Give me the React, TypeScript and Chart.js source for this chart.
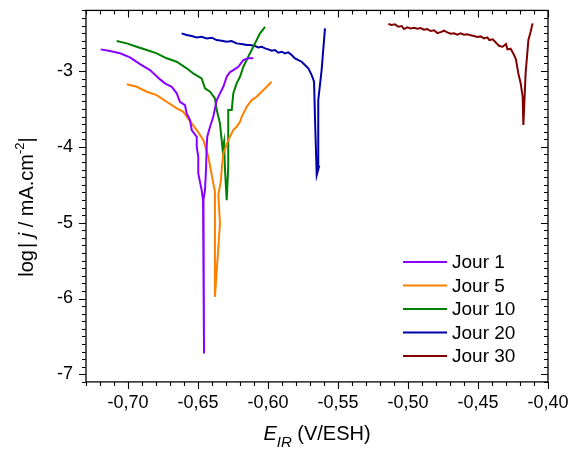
import React, { useEffect, useRef } from "react";
import { Chart, registerables } from "chart.js";

Chart.register(...registerables);

const FONT = "'Liberation Sans', Arial, sans-serif";

const seriesLabels = ["Jour 1", "Jour 5", "Jour 10", "Jour 20", "Jour 30"];
const seriesColors = ["#8a00ff", "#ff8000", "#008000", "#0000a8", "#800000"];

const jour1E = [-0.7195, -0.7129, -0.7057, -0.6986, -0.6914, -0.6843, -0.6771, -0.6736, -0.6688, -0.6652, -0.6629, -0.6593, -0.6581, -0.6557, -0.6545, -0.6509, -0.6509, -0.6498, -0.6498, -0.6474, -0.6464, -0.6457, -0.6461, -0.645, -0.6443, -0.6438, -0.6434, -0.6414, -0.6391, -0.6366, -0.6343, -0.6319, -0.6295, -0.6271, -0.6248, -0.6212, -0.6176, -0.6141, -0.6105];
const jour1LogJ = [-2.714, -2.736, -2.766, -2.819, -2.908, -2.987, -3.11, -3.162, -3.207, -3.294, -3.405, -3.449, -3.558, -3.646, -3.778, -3.867, -3.999, -4.131, -4.35, -4.57, -4.702, -6.724, -4.7, -4.57, -4.306, -3.999, -3.867, -3.735, -3.603, -3.383, -3.294, -3.207, -3.075, -3.013, -2.987, -2.943, -2.855, -2.832, -2.832];

const jour5E = [-0.7009, -0.6938, -0.6866, -0.6795, -0.6724, -0.6652, -0.6605, -0.6581, -0.6545, -0.6509, -0.6462, -0.6426, -0.6395, -0.6379, -0.6379, -0.6343, -0.6355, -0.6336, -0.6329, -0.6319, -0.6284, -0.6248, -0.6224, -0.62, -0.6188, -0.6152, -0.6116, -0.6081, -0.6045, -0.6009, -0.5974];
const jour5LogJ = [-3.175, -3.207, -3.273, -3.317, -3.405, -3.492, -3.537, -3.603, -3.69, -3.778, -3.91, -4.131, -4.438, -4.592, -5.978, -5.009, -4.636, -4.438, -4.262, -4.086, -3.91, -3.778, -3.735, -3.669, -3.603, -3.471, -3.383, -3.339, -3.273, -3.207, -3.141];

const jour10E = [-0.7081, -0.7009, -0.6938, -0.6866, -0.6795, -0.6724, -0.6652, -0.6581, -0.6534, -0.6474, -0.645, -0.6414, -0.6379, -0.6366, -0.6343, -0.6331, -0.6324, -0.6314, -0.6307, -0.6295, -0.6284, -0.6284, -0.6259, -0.6248, -0.6224, -0.62, -0.6176, -0.6141, -0.6105, -0.6081, -0.6057, -0.6021];
const jour10LogJ = [-2.604, -2.635, -2.679, -2.723, -2.766, -2.832, -2.877, -2.964, -3.03, -3.096, -3.228, -3.273, -3.36, -3.515, -3.69, -3.91, -4.042, -3.933, -4.306, -4.702, -4.262, -3.515, -3.515, -3.294, -3.162, -3.075, -2.943, -2.811, -2.679, -2.591, -2.503, -2.416];

const jour20E = [-0.6617, -0.6581, -0.6545, -0.651, -0.6474, -0.6438, -0.6402, -0.6367, -0.6331, -0.6295, -0.626, -0.6224, -0.6188, -0.6152, -0.6129, -0.6093, -0.6069, -0.6045, -0.6021, -0.5998, -0.5974, -0.595, -0.5926, -0.5902, -0.5879, -0.5855, -0.5831, -0.5807, -0.5783, -0.576, -0.5736, -0.5712, -0.5688, -0.5671, -0.5664, -0.5652, -0.5636, -0.5641, -0.5617, -0.5593];
const jour20LogJ = [-2.503, -2.525, -2.538, -2.556, -2.547, -2.569, -2.56, -2.591, -2.6, -2.613, -2.604, -2.635, -2.644, -2.657, -2.657, -2.67, -2.688, -2.679, -2.701, -2.714, -2.732, -2.723, -2.758, -2.745, -2.767, -2.754, -2.789, -2.833, -2.855, -2.877, -2.921, -2.965, -3.053, -3.141, -3.646, -4.372, -4.262, -3.383, -2.987, -2.437];

const jour30E = [-0.514, -0.5117, -0.5093, -0.5069, -0.5045, -0.5029, -0.5005, -0.4981, -0.4957, -0.4933, -0.491, -0.4886, -0.4862, -0.4838, -0.4814, -0.479, -0.4767, -0.4743, -0.4719, -0.4695, -0.4671, -0.4648, -0.4624, -0.46, -0.4576, -0.4552, -0.4529, -0.4505, -0.4481, -0.4457, -0.4433, -0.4419, -0.4395, -0.4371, -0.4348, -0.4324, -0.43, -0.429, -0.4267, -0.4248, -0.4229, -0.4212, -0.4195, -0.4181, -0.4176, -0.4167, -0.416, -0.414, -0.4124, -0.411];
const jour30LogJ = [-2.38, -2.393, -2.384, -2.415, -2.406, -2.446, -2.424, -2.437, -2.428, -2.442, -2.433, -2.455, -2.446, -2.472, -2.463, -2.499, -2.486, -2.468, -2.49, -2.507, -2.503, -2.521, -2.503, -2.521, -2.516, -2.529, -2.538, -2.551, -2.543, -2.569, -2.556, -2.591, -2.582, -2.626, -2.67, -2.679, -2.644, -2.714, -2.705, -2.767, -2.846, -3.031, -3.163, -3.339, -3.712, -3.339, -3.031, -2.591, -2.481, -2.371];

const seriesE = [jour1E, jour5E, jour10E, jour20E, jour30E];
const seriesLogJ = [jour1LogJ, jour5LogJ, jour10LogJ, jour20LogJ, jour30LogJ];

const xTickValues = [-0.7, -0.65, -0.6, -0.55, -0.5, -0.45, -0.4];
const yTickValues = [-7, -6, -5, -4, -3];
const xMin = -0.73;
const xMax = -0.4;
const yMin = -7.1;
const yMax = -2.2;
const xMinorStep = 0.01;
const yMinorStep = 0.1;

type Part = { text: string; size: number; italic?: boolean; dy?: number; gap?: number };

function fontOf(p: Part) {
  return `${p.italic ? "italic " : ""}${p.size}px ${FONT}`;
}

function drawRich(ctx: CanvasRenderingContext2D, parts: Part[], cx: number, baseY: number) {
  let total = 0;
  const widths = parts.map((p) => {
    ctx.font = fontOf(p);
    const w = ctx.measureText(p.text).width;
    total += w + (p.gap || 0);
    return w;
  });
  let x = cx - total / 2;
  ctx.textAlign = "left";
  ctx.textBaseline = "alphabetic";
  parts.forEach((p, i) => {
    x += p.gap || 0;
    ctx.font = fontOf(p);
    ctx.fillText(p.text, x, baseY + (p.dy || 0));
    x += widths[i];
  });
}

const framePlugin = {
  id: "frameTicks",
  afterDraw(chart: any) {
    const { ctx, chartArea: a, scales } = chart;
    const xs = scales.x;
    const ys = scales.y;
    ctx.save();
    ctx.strokeStyle = "#000";
    ctx.lineWidth = 1.3;
    ctx.strokeRect(a.left, a.top, a.right - a.left, a.bottom - a.top);
    ctx.lineWidth = 1.1;
    ctx.beginPath();
    const nx = Math.round((xMax - xMin) / xMinorStep);
    for (let i = 0; i <= nx; i++) {
      const v = xMin + i * xMinorStep;
      const major = xTickValues.some((t) => Math.abs(t - v) < 1e-6);
      const len = major ? 7 : 4;
      const px = Math.round(xs.getPixelForValue(v)) + 0.5;
      ctx.moveTo(px, a.bottom);
      ctx.lineTo(px, a.bottom + len);
      ctx.moveTo(px, a.top);
      ctx.lineTo(px, a.top + len);
    }
    const ny = Math.round((yMax - yMin) / yMinorStep);
    for (let i = 0; i <= ny; i++) {
      const v = yMin + i * yMinorStep;
      const major = yTickValues.some((t) => Math.abs(t - v) < 1e-6);
      const len = major ? 7 : 4;
      const py = Math.round(ys.getPixelForValue(v)) + 0.5;
      ctx.moveTo(a.left - len, py);
      ctx.lineTo(a.left, py);
      ctx.moveTo(a.right - len, py);
      ctx.lineTo(a.right, py);
    }
    ctx.stroke();

    ctx.fillStyle = "#000";
    // X title
    drawRich(
      ctx,
      [
        { text: "E", size: 20, italic: true },
        { text: "IR", size: 15, italic: true, dy: 7, gap: 0 },
        { text: " (V/ESH)", size: 20 },
      ],
      (a.left + a.right) / 2,
      440
    );
    // Y title
    ctx.save();
    ctx.translate(33, 207);
    ctx.rotate(-Math.PI / 2);
    drawRich(
      ctx,
      [
        { text: "log", size: 20 },
        { text: "|", size: 20, gap: 2 },
        { text: " j", size: 20, italic: true },
        { text: " / mA.cm", size: 20 },
        { text: "-2", size: 13, dy: -9 },
        { text: "|", size: 20 },
      ],
      0,
      0
    );
    ctx.restore();

    // Legend
    const datasets = chart.data.datasets;
    ctx.lineWidth = 2;
    ctx.font = `19px ${FONT}`;
    ctx.textAlign = "left";
    ctx.textBaseline = "middle";
    datasets.forEach((ds: any, i: number) => {
      const y = 262 + i * 23.5;
      ctx.strokeStyle = ds.borderColor;
      ctx.beginPath();
      ctx.moveTo(403, y);
      ctx.lineTo(447, y);
      ctx.stroke();
      ctx.fillStyle = "#000";
      ctx.fillText(ds.label, 452, y + 1);
    });
    ctx.restore();
  },
};

export default function App() {
  const ref = useRef<HTMLCanvasElement | null>(null);
  useEffect(() => {
    if (!ref.current) return;
    const datasets = seriesLabels.map((label, s) => ({
      label,
      data: seriesE[s].map((x, i) => ({ x, y: seriesLogJ[s][i] })),
      showLine: true,
      borderColor: seriesColors[s],
      backgroundColor: seriesColors[s],
      borderWidth: 2,
      pointRadius: 0,
      fill: false,
      tension: 0,
    }));
    const chart = new Chart(ref.current, {
      type: "scatter",
      data: { datasets },
      options: {
        animation: false,
        responsive: true,
        maintainAspectRatio: false,
        layout: { padding: { left: 0, right: 23, top: 10.4, bottom: 0 } },
        plugins: { legend: { display: false }, tooltip: { enabled: false } },
        scales: {
          x: {
            type: "linear",
            min: xMin,
            max: xMax,
            afterBuildTicks: (s: any) => {
              s.ticks = xTickValues.map((v) => ({ value: v }));
            },
            afterFit: (s: any) => {
              s.height = 68.1;
              s.paddingLeft = 0;
              s.paddingRight = 0;
              s.paddingTop = 0;
              s.paddingBottom = 0;
            },
            grid: { display: false, drawTicks: false },
            border: { display: false },
            ticks: {
              color: "#000",
              font: { family: FONT, size: 18 },
              padding: 10,
              maxRotation: 0,
              autoSkip: false,
              callback: (v: any) => Number(v).toFixed(2).replace(".", ","),
            },
          },
          y: {
            type: "linear",
            min: yMin,
            max: yMax,
            afterBuildTicks: (s: any) => {
              s.ticks = yTickValues.map((v) => ({ value: v }));
            },
            afterFit: (s: any) => {
              s.width = 86;
              s.paddingLeft = 0;
              s.paddingRight = 0;
              s.paddingTop = 0;
              s.paddingBottom = 0;
            },
            grid: { display: false, drawTicks: false },
            border: { display: false },
            ticks: {
              color: "#000",
              font: { family: FONT, size: 18 },
              padding: 13,
              autoSkip: false,
              callback: (v: any) => String(v),
            },
          },
        },
      },
      plugins: [framePlugin],
    });
    return () => chart.destroy();
  }, []);
  return (
    <div style={{ position: "absolute", left: 0, top: 0, width: 571, height: 450, background: "#fff" }}>
      <canvas ref={ref} />
    </div>
  );
}
